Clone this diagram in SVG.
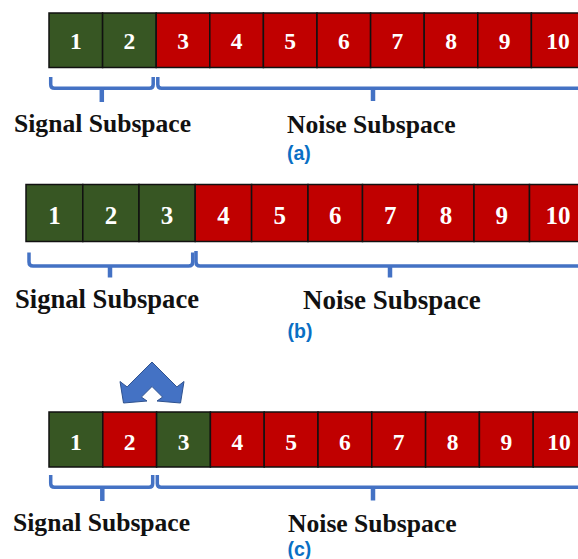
<svg xmlns="http://www.w3.org/2000/svg" width="578" height="559" viewBox="0 0 578 559">
<style>
.g{fill:#375623;stroke:#111;stroke-width:1.5}
.r{fill:#C00000;stroke:#111;stroke-width:1.5}
.n{font-family:"Liberation Serif","Times New Roman",serif;font-weight:bold;fill:#fff;text-anchor:middle}
.na{font-size:23.5px}
.nb{font-size:25px}
.lbl{font-family:"Liberation Serif","Times New Roman",serif;font-weight:bold;fill:#111}
.cap{font-family:"Liberation Sans",Arial,sans-serif;font-weight:bold;font-size:19.5px;fill:#0A6FC4}
.br{fill:none;stroke:#4472C4;stroke-width:3.5;stroke-linecap:butt;stroke-linejoin:round}
.tip{fill:none;stroke:#4472C4;stroke-width:4.5}
</style>
<rect width="578" height="559" fill="#fff"/>

<!-- Row (a) -->
<g id="row-a">
<g id="a1"><rect class="g" x="49" y="13" width="53.6" height="54.5"/><text class="n na" x="75.8" y="49.3">1</text></g>
<g id="a2"><rect class="g" x="102.6" y="13" width="53.6" height="54.5"/><text class="n na" x="129.4" y="49.3">2</text></g>
<g id="a3"><rect class="r" x="156.2" y="13" width="53.6" height="54.5"/><text class="n na" x="183" y="49.3">3</text></g>
<g id="a4"><rect class="r" x="209.8" y="13" width="53.6" height="54.5"/><text class="n na" x="236.6" y="49.3">4</text></g>
<g id="a5"><rect class="r" x="263.4" y="13" width="53.6" height="54.5"/><text class="n na" x="290.2" y="49.3">5</text></g>
<g id="a6"><rect class="r" x="317" y="13" width="53.6" height="54.5"/><text class="n na" x="343.8" y="49.3">6</text></g>
<g id="a7"><rect class="r" x="370.6" y="13" width="53.6" height="54.5"/><text class="n na" x="397.4" y="49.3">7</text></g>
<g id="a8"><rect class="r" x="424.2" y="13" width="53.6" height="54.5"/><text class="n na" x="451" y="49.3">8</text></g>
<g id="a9"><rect class="r" x="477.8" y="13" width="53.6" height="54.5"/><text class="n na" x="504.6" y="49.3">9</text></g>
<g id="a10"><rect class="r" x="531.4" y="13" width="53.6" height="54.5"/><text class="n na" x="558" y="49.3">10</text></g>
</g>

<!-- Row (b) -->
<g id="row-b">
<g id="b1"><rect class="g" x="26" y="184.5" width="56.8" height="57"/><text class="n nb" x="54.4" y="223.7">1</text></g>
<g id="b2"><rect class="g" x="82.8" y="184.5" width="56.2" height="57"/><text class="n nb" x="110.9" y="223.7">2</text></g>
<g id="b3"><rect class="g" x="139" y="184.5" width="56.2" height="57"/><text class="n nb" x="167.1" y="223.7">3</text></g>
<g id="b4"><rect class="r" x="195.2" y="184.5" width="56.4" height="57"/><text class="n nb" x="223.4" y="223.7">4</text></g>
<g id="b5"><rect class="r" x="251.6" y="184.5" width="56.4" height="57"/><text class="n nb" x="279.8" y="223.7">5</text></g>
<g id="b6"><rect class="r" x="308" y="184.5" width="54.5" height="57"/><text class="n nb" x="335.3" y="223.7">6</text></g>
<g id="b7"><rect class="r" x="362.5" y="184.5" width="55.5" height="57"/><text class="n nb" x="390.3" y="223.7">7</text></g>
<g id="b8"><rect class="r" x="418" y="184.5" width="56" height="57"/><text class="n nb" x="446" y="223.7">8</text></g>
<g id="b9"><rect class="r" x="474" y="184.5" width="55.5" height="57"/><text class="n nb" x="501.8" y="223.7">9</text></g>
<g id="b10"><rect class="r" x="529.5" y="184.5" width="56.5" height="57"/><text class="n nb" x="558" y="223.7">10</text></g>
</g>

<!-- Row (c) -->
<g id="row-c">
<g id="c1"><rect class="g" x="49" y="412" width="53.8" height="55"/><text class="n na" x="75.9" y="449.5">1</text></g>
<g id="c2"><rect class="r" x="102.8" y="412" width="53.8" height="55"/><text class="n na" x="129.7" y="449.5">2</text></g>
<g id="c3"><rect class="g" x="156.6" y="412" width="53.8" height="55"/><text class="n na" x="183.5" y="449.5">3</text></g>
<g id="c4"><rect class="r" x="210.4" y="412" width="53.8" height="55"/><text class="n na" x="237.3" y="449.5">4</text></g>
<g id="c5"><rect class="r" x="264.2" y="412" width="53.8" height="55"/><text class="n na" x="291.1" y="449.5">5</text></g>
<g id="c6"><rect class="r" x="318" y="412" width="53.8" height="55"/><text class="n na" x="344.9" y="449.5">6</text></g>
<g id="c7"><rect class="r" x="371.8" y="412" width="53.8" height="55"/><text class="n na" x="398.7" y="449.5">7</text></g>
<g id="c8"><rect class="r" x="425.6" y="412" width="53.8" height="55"/><text class="n na" x="452.5" y="449.5">8</text></g>
<g id="c9"><rect class="r" x="479.4" y="412" width="53.8" height="55"/><text class="n na" x="506.3" y="449.5">9</text></g>
<g id="c10"><rect class="r" x="533.2" y="412" width="53.8" height="55"/><text class="n na" x="559" y="449.5">10</text></g>
</g>

<!-- Braces -->
<g id="braces">
<path class="br" d="M50.7,77 V84.5 Q50.7,88.3 54.5,88.3 H149.5 Q153.2,88.3 153.2,84.5 V77"/>
<path class="tip" d="M101.8,88 V102"/>
<path class="br" d="M157.8,77 V84.5 Q157.8,88.3 161.6,88.3 H580"/>
<path class="tip" d="M373,88 V101"/>

<path class="br" d="M29,252.5 V262 Q29,266 33,266 H188.7 Q192.7,266 192.7,262 V252.5"/>
<path class="tip" d="M110,265.5 V277.5"/>
<path class="br" d="M196,251 V262 Q196,266 200,266 H580"/>
<path class="tip" d="M390,265.5 V277.5"/>

<path class="br" d="M50.7,475 V483.5 Q50.7,487.3 54.5,487.3 H149 Q152.7,487.3 152.7,483.5 V475"/>
<path class="tip" d="M102.3,487 V501"/>
<path class="br" d="M157.3,475 V483.5 Q157.3,487.3 161.1,487.3 H580"/>
<path class="tip" d="M373,487 V500.5"/>
</g>

<!-- Swap arrow -->
<g id="swap-arrow">
<polygon points="152,362 176.9,386.9 184,381.5 180.5,403 157,401 162.6,397.1 152,386.5 141.4,397.1 147,401 123.5,403 120,381.5 127.1,386.9" fill="#4472C4" stroke="#2F528F" stroke-width="1" stroke-linejoin="miter"/>
</g>

<!-- Labels -->
<g id="labels">
<text class="lbl" x="14" y="131.5" font-size="25.6">Signal Subspace</text>
<text class="lbl" x="287" y="132.5" font-size="25.6">Noise Subspace</text>
<text class="cap" x="287" y="159.5">(a)</text>

<text class="lbl" x="15" y="308" font-size="26.6">Signal Subspace</text>
<text class="lbl" x="303" y="309" font-size="27">Noise Subspace</text>
<text class="cap" x="287.5" y="337.5">(b)</text>

<text class="lbl" x="13" y="531" font-size="25.6">Signal Subspace</text>
<text class="lbl" x="288" y="532" font-size="25.6">Noise Subspace</text>
<text class="cap" x="287.5" y="555.5">(c)</text>
</g>
</svg>
